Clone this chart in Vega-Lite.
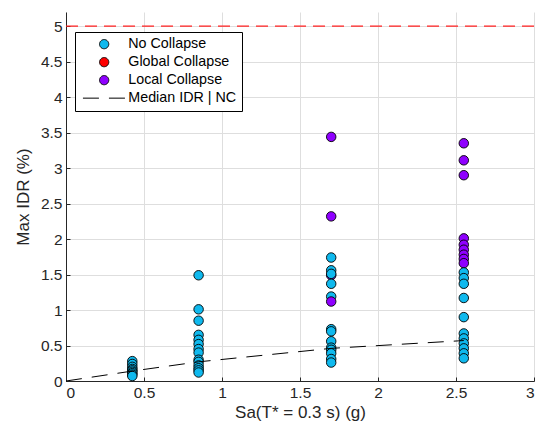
{
  "$schema": "https://vega.github.io/schema/vega-lite/v6.json",
  "width": 468,
  "height": 369,
  "autosize": "none",
  "padding": {"left": 66, "top": 12, "right": 8, "bottom": 55},
  "background": "white",
  "config": {
    "view": {"stroke": null},
    "font": "Liberation Sans",
    "axis": {
      "domainColor": "#262626",
      "domainWidth": 1,
      "tickColor": "#262626",
      "tickSize": -4,
      "labelColor": "#262626",
      "labelFontSize": 15.5,
      "labelFont": "Liberation Sans",
      "titleColor": "#262626",
      "titleFontSize": 17,
      "titleFont": "Liberation Sans",
      "titleFontWeight": "normal",
      "gridColor": "#DEDEDE",
      "gridWidth": 1,
      "labelOverlap": false
    },
    "legend": {
      "title": null,
      "orient": "none",
      "legendX": 9,
      "legendY": 20,
      "strokeColor": "black",
      "fillColor": "white",
      "padding": 5,
      "labelFontSize": 14.3,
      "labelColor": "#000000",
      "labelFont": "Liberation Sans",
      "rowPadding": 3,
      "symbolSize": 85,
      "symbolStrokeColor": "black",
      "symbolStrokeWidth": 1,
      "symbolOpacity": 1,
      "symbolOffset": 17,
      "labelOffset": 17
    }
  },
  "datasets": {
    "pts": [
      {"sa": 0.425, "idr": 0.28, "cat": "No Collapse"},
      {"sa": 0.425, "idr": 0.24, "cat": "No Collapse"},
      {"sa": 0.425, "idr": 0.20, "cat": "No Collapse"},
      {"sa": 0.425, "idr": 0.17, "cat": "No Collapse"},
      {"sa": 0.425, "idr": 0.15, "cat": "No Collapse"},
      {"sa": 0.425, "idr": 0.13, "cat": "No Collapse"},
      {"sa": 0.425, "idr": 0.11, "cat": "No Collapse"},
      {"sa": 0.425, "idr": 0.09, "cat": "No Collapse"},
      {"sa": 0.425, "idr": 0.07, "cat": "No Collapse"},
      {"sa": 0.85, "idr": 1.49, "cat": "No Collapse"},
      {"sa": 0.85, "idr": 1.01, "cat": "No Collapse"},
      {"sa": 0.85, "idr": 0.85, "cat": "No Collapse"},
      {"sa": 0.85, "idr": 0.65, "cat": "No Collapse"},
      {"sa": 0.85, "idr": 0.58, "cat": "No Collapse"},
      {"sa": 0.85, "idr": 0.52, "cat": "No Collapse"},
      {"sa": 0.85, "idr": 0.45, "cat": "No Collapse"},
      {"sa": 0.85, "idr": 0.40, "cat": "No Collapse"},
      {"sa": 0.85, "idr": 0.30, "cat": "No Collapse"},
      {"sa": 0.85, "idr": 0.27, "cat": "No Collapse"},
      {"sa": 0.85, "idr": 0.22, "cat": "No Collapse"},
      {"sa": 0.85, "idr": 0.18, "cat": "No Collapse"},
      {"sa": 0.85, "idr": 0.15, "cat": "No Collapse"},
      {"sa": 0.85, "idr": 0.12, "cat": "No Collapse"},
      {"sa": 1.7, "idr": 3.44, "cat": "Local Collapse"},
      {"sa": 1.7, "idr": 2.32, "cat": "Local Collapse"},
      {"sa": 1.7, "idr": 1.49, "cat": "Local Collapse"},
      {"sa": 1.7, "idr": 1.74, "cat": "No Collapse"},
      {"sa": 1.7, "idr": 1.56, "cat": "No Collapse"},
      {"sa": 1.7, "idr": 1.51, "cat": "No Collapse"},
      {"sa": 1.7, "idr": 1.37, "cat": "No Collapse"},
      {"sa": 1.7, "idr": 1.19, "cat": "No Collapse"},
      {"sa": 1.7, "idr": 1.12, "cat": "Local Collapse"},
      {"sa": 1.7, "idr": 0.73, "cat": "No Collapse"},
      {"sa": 1.7, "idr": 0.70, "cat": "No Collapse"},
      {"sa": 1.7, "idr": 0.56, "cat": "No Collapse"},
      {"sa": 1.7, "idr": 0.47, "cat": "No Collapse"},
      {"sa": 1.7, "idr": 0.44, "cat": "No Collapse"},
      {"sa": 1.7, "idr": 0.39, "cat": "No Collapse"},
      {"sa": 1.7, "idr": 0.31, "cat": "No Collapse"},
      {"sa": 1.7, "idr": 0.26, "cat": "No Collapse"},
      {"sa": 2.55, "idr": 3.35, "cat": "Local Collapse"},
      {"sa": 2.55, "idr": 3.11, "cat": "Local Collapse"},
      {"sa": 2.55, "idr": 2.90, "cat": "Local Collapse"},
      {"sa": 2.55, "idr": 2.01, "cat": "Local Collapse"},
      {"sa": 2.55, "idr": 1.92, "cat": "Local Collapse"},
      {"sa": 2.55, "idr": 1.85, "cat": "Local Collapse"},
      {"sa": 2.55, "idr": 1.78, "cat": "Local Collapse"},
      {"sa": 2.55, "idr": 1.72, "cat": "Local Collapse"},
      {"sa": 2.55, "idr": 1.66, "cat": "Local Collapse"},
      {"sa": 2.55, "idr": 1.53, "cat": "No Collapse"},
      {"sa": 2.55, "idr": 1.45, "cat": "No Collapse"},
      {"sa": 2.55, "idr": 1.37, "cat": "No Collapse"},
      {"sa": 2.55, "idr": 1.17, "cat": "No Collapse"},
      {"sa": 2.55, "idr": 0.90, "cat": "No Collapse"},
      {"sa": 2.55, "idr": 0.67, "cat": "No Collapse"},
      {"sa": 2.55, "idr": 0.60, "cat": "No Collapse"},
      {"sa": 2.55, "idr": 0.53, "cat": "No Collapse"},
      {"sa": 2.55, "idr": 0.46, "cat": "No Collapse"},
      {"sa": 2.55, "idr": 0.39, "cat": "No Collapse"},
      {"sa": 2.55, "idr": 0.32, "cat": "No Collapse"}
    ],
    "median": [
      {"sa": 0, "idr": 0, "cat": "Median IDR | NC"},
      {"sa": 0.425, "idr": 0.14, "cat": "Median IDR | NC"},
      {"sa": 0.85, "idr": 0.27, "cat": "Median IDR | NC"},
      {"sa": 1.7, "idr": 0.46, "cat": "Median IDR | NC"},
      {"sa": 2.55, "idr": 0.57, "cat": "Median IDR | NC"}
    ],
    "limit": [{"sa": 0, "idr": 5}, {"sa": 3, "idr": 5}]
  },
  "encoding": {
    "x": {
      "field": "sa", "type": "quantitative",
      "scale": {"domain": [0, 3], "nice": false},
      "axis": {"values": [0, 0.5, 1, 1.5, 2, 2.5, 3], "title": "Sa(T* = 0.3 s) (g)", "labelPadding": 8, "titlePadding": 4, "format": "~g"}
    },
    "y": {
      "field": "idr", "type": "quantitative",
      "scale": {"domain": [0, 5.2], "nice": false},
      "axis": {"values": [0, 0.5, 1, 1.5, 2, 2.5, 3, 3.5, 4, 4.5, 5], "title": "Max IDR (%)", "labelPadding": 8, "titlePadding": 8, "format": "~g"}
    }
  },
  "layer": [
    {
      "data": {"name": "pts"},
      "mark": {"type": "point", "filled": true, "size": 90, "strokeWidth": 0.9, "opacity": 1},
      "encoding": {
        "color": {
          "field": "cat", "type": "nominal",
          "scale": {
            "domain": ["No Collapse", "Global Collapse", "Local Collapse", "Median IDR | NC"],
            "range": ["#0FB9EE", "#FF0000", "#8F00FF", "#000000"]
          },
          "legend": {"title": null}
        },
        "stroke": {
          "field": "cat", "type": "nominal",
          "scale": {
            "domain": ["No Collapse", "Global Collapse", "Local Collapse", "Median IDR | NC"],
            "range": ["#000000", "#000000", "#000000", "#000000"]
          },
          "legend": {"title": null}
        },
        "shape": {
          "field": "cat", "type": "nominal",
          "scale": {
            "domain": ["No Collapse", "Global Collapse", "Local Collapse", "Median IDR | NC"],
            "range": ["circle", "circle", "circle", "M-4.6,0L4.6,0"]
          },
          "legend": {"title": null}
        }
      }
    },
    {
      "data": {"name": "median"},
      "mark": {"type": "line", "color": "black", "strokeWidth": 1},
      "encoding": {
        "strokeDash": {
          "field": "cat", "type": "nominal",
          "scale": {
            "domain": ["No Collapse", "Global Collapse", "Local Collapse", "Median IDR | NC"],
            "range": [[1, 0], [1, 0], [1, 0], [16, 10]]
          },
          "legend": {"title": null}
        }
      }
    },
    {
      "data": {"name": "limit"},
      "mark": {"type": "line", "color": "#FF2020", "strokeWidth": 1.3, "strokeDash": [12, 7]}
    }
  ]
}
